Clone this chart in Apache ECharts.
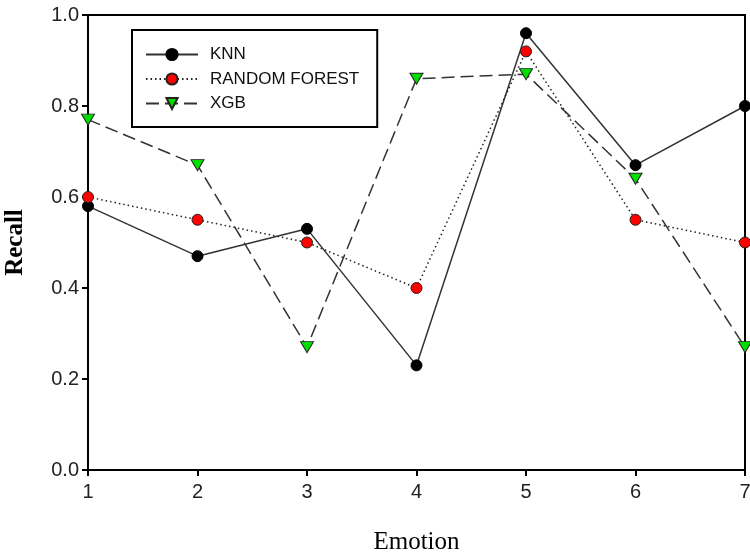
<!DOCTYPE html>
<html>
<head>
<meta charset="utf-8">
<script src="https://cdn.jsdelivr.net/npm/echarts@6/dist/echarts.min.js"></script>
<style>
  html, body { margin: 0; padding: 0; background: #fff; }
  #chart { width: 750px; height: 554px; }
</style>
</head>
<body>
<div id="chart"></div>
<script>
// Emotion classes on the x axis
const emotions = [1, 2, 3, 4, 5, 6, 7];

// Recall per emotion for each classifier
const knnRecall = [0.58, 0.47, 0.53, 0.23, 0.96, 0.67, 0.80];
const rfRecall  = [0.60, 0.55, 0.50, 0.40, 0.92, 0.55, 0.50];
const xgbRecall = [0.77, 0.67, 0.27, 0.86, 0.87, 0.64, 0.27];

const yTicks = [0.0, 0.2, 0.4, 0.6, 0.8, 1.0];

const pair = (vals) => emotions.map((e, i) => [e, vals[i]]);

const chart = echarts.init(document.getElementById('chart'), null, { renderer: 'canvas' });

const tickFont = { fontFamily: 'Liberation Sans, Arial, sans-serif', fontSize: 20, color: '#222' };

chart.setOption({
  animation: false,
  backgroundColor: '#fff',
  grid: {
    left: 88, right: 5, top: 15, bottom: 84,
    containLabel: false, outerBoundsMode: 'none',
    show: true, borderColor: '#000', borderWidth: 2, backgroundColor: 'transparent'
  },
  legend: {
    orient: 'vertical',
    left: 132, top: 30,
    padding: [16, 18, 15, 13],
    itemGap: 7.5,
    itemWidth: 52, itemHeight: 14,
    borderColor: '#000', borderWidth: 2,
    textStyle: { fontFamily: 'Liberation Sans, Arial, sans-serif', fontSize: 17, color: '#111', padding: [0, 0, 0, 7] },
    data: ['KNN', 'RANDOM FOREST', 'XGB']
  },
  xAxis: {
    type: 'value',
    min: 1, max: 7, interval: 1,
    name: 'Emotion', nameLocation: 'middle', nameGap: 60,
    nameTextStyle: { fontFamily: 'Liberation Serif, Times New Roman, serif', fontSize: 25, color: '#000' },
    axisLine: { lineStyle: { color: '#000', width: 2 } },
    axisTick: { show: true, length: 6, inside: false, lineStyle: { color: '#000', width: 2 } },
    axisLabel: Object.assign({ margin: 12 }, tickFont),
    splitLine: { show: false }
  },
  yAxis: {
    type: 'value',
    min: yTicks[0], max: yTicks[yTicks.length - 1], interval: 0.2,
    name: 'Recall', nameLocation: 'middle', nameGap: 60, nameRotate: 90,
    nameTextStyle: { fontFamily: 'Liberation Serif, Times New Roman, serif', fontSize: 25, fontWeight: 'bold', color: '#000' },
    axisLine: { show: true, lineStyle: { color: '#000', width: 2 } },
    axisTick: { show: true, length: 6, inside: false, lineStyle: { color: '#000', width: 2 } },
    axisLabel: Object.assign({ margin: 9, formatter: (v) => v.toFixed(1) }, tickFont),
    splitLine: { show: false }
  },
  series: [
    {
      name: 'KNN', type: 'line', data: pair(knnRecall),
      symbol: 'circle', symbolSize: 11,
      lineStyle: { color: '#333', width: 1.5, type: 'solid' },
      itemStyle: { color: '#000', borderColor: '#000', borderWidth: 1 },
      z: 3
    },
    {
      name: 'RANDOM FOREST', type: 'line', data: pair(rfRecall),
      symbol: 'circle', symbolSize: 11,
      lineStyle: { color: '#222', width: 1.5, type: [1.5, 3] },
      itemStyle: { color: '#ff0000', borderColor: '#222', borderWidth: 1 },
      z: 4
    },
    {
      name: 'XGB', type: 'line', data: pair(xgbRecall),
      symbol: 'triangle', symbolSize: [13, 11], symbolRotate: 180,
      lineStyle: { color: '#333', width: 1.5, type: [13, 6] },
      itemStyle: { color: '#00dd00', borderColor: '#222', borderWidth: 1 },
      z: 5
    }
  ]
});
</script>
</body>
</html>
